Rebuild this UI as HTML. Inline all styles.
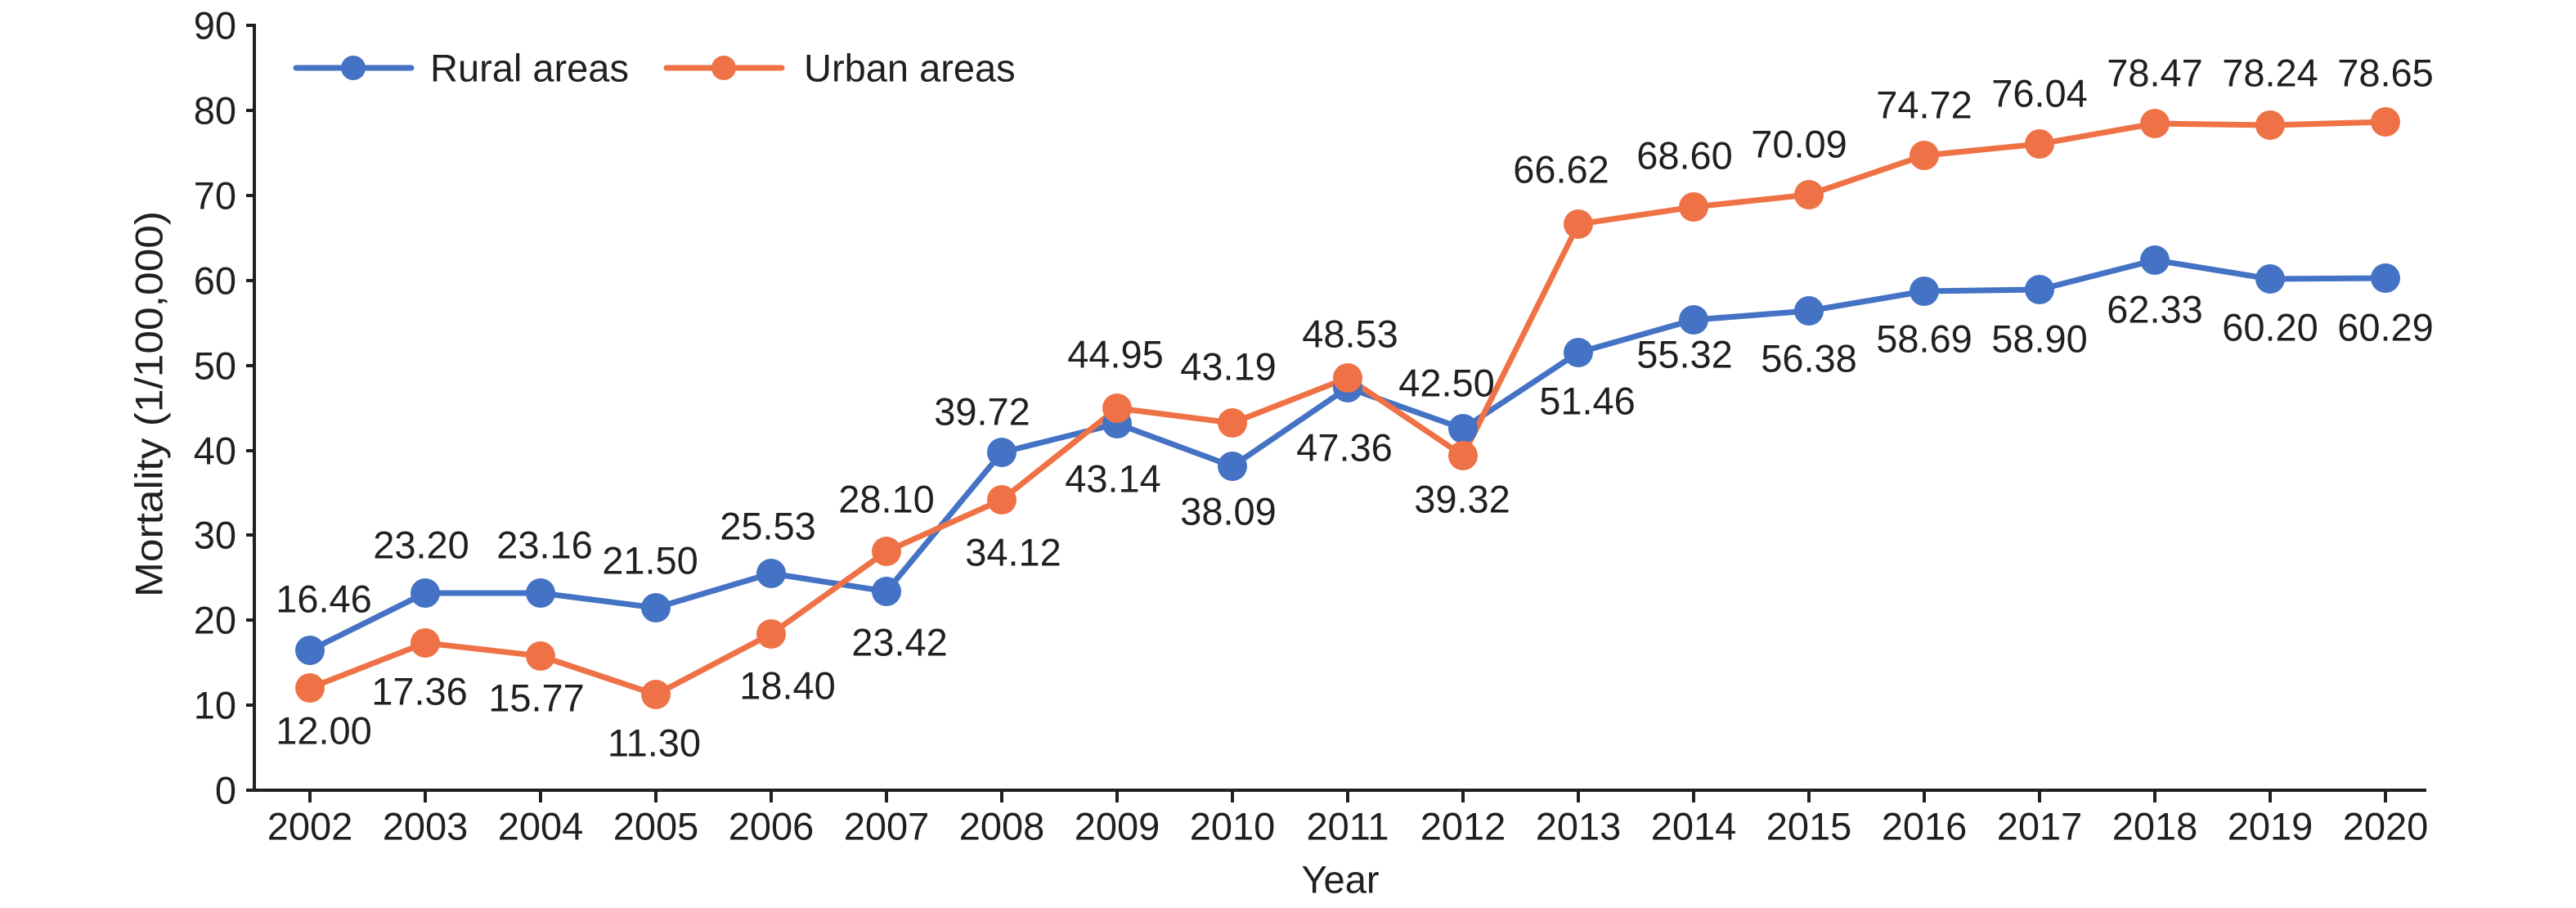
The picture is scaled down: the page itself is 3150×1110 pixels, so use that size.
<!DOCTYPE html>
<html><head><meta charset="utf-8"><style>html,body{margin:0;padding:0;background:#fff}svg{display:block}</style></head>
<body>
<svg width="3150" height="1110" viewBox="0 0 3150 1110" xmlns="http://www.w3.org/2000/svg" font-family="Liberation Sans, sans-serif" fill="#231F20">
<rect width="3150" height="1110" fill="#fff"/>
<g stroke="#231F20" stroke-width="4" fill="none">
<line x1="311" y1="29" x2="311" y2="968"/>
<line x1="309" y1="966" x2="2967" y2="966"/>
<path d="M301 31H311M301 135H311M301 239H311M301 343H311M301 447H311M301 551H311M301 654H311M301 758H311M301 862H311M301 966H311"/>
<path d="M379 966V981M520 966V981M661 966V981M802 966V981M943 966V981M1084 966V981M1225 966V981M1366 966V981M1507 966V981M1648 966V981M1789 966V981M1930 966V981M2071 966V981M2212 966V981M2353 966V981M2494 966V981M2635 966V981M2776 966V981M2917 966V981"/>
</g>
<g font-size="47" text-anchor="end" dominant-baseline="central">
<text x="289" y="31">90</text><text x="289" y="135">80</text><text x="289" y="239">70</text><text x="289" y="343">60</text><text x="289" y="447">50</text><text x="289" y="551">40</text><text x="289" y="654">30</text><text x="289" y="758">20</text><text x="289" y="862">10</text><text x="289" y="966">0</text>
</g>
<g font-size="47" text-anchor="middle" dominant-baseline="central">
<text x="379" y="1010">2002</text><text x="520" y="1010">2003</text><text x="661" y="1010">2004</text><text x="802" y="1010">2005</text><text x="943" y="1010">2006</text><text x="1084" y="1010">2007</text><text x="1225" y="1010">2008</text><text x="1366" y="1010">2009</text><text x="1507" y="1010">2010</text><text x="1648" y="1010">2011</text><text x="1789" y="1010">2012</text><text x="1930" y="1010">2013</text><text x="2071" y="1010">2014</text><text x="2212" y="1010">2015</text><text x="2353" y="1010">2016</text><text x="2494" y="1010">2017</text><text x="2635" y="1010">2018</text><text x="2776" y="1010">2019</text><text x="2917" y="1010">2020</text>
<text x="1639" y="1075">Year</text>
<text x="0" y="0" transform="translate(182,494) rotate(-90)" textLength="472" lengthAdjust="spacingAndGlyphs">Mortality (1/100,000)</text>
</g>
<line x1="362" y1="83" x2="503" y2="83" stroke="#4472C4" stroke-width="7" stroke-linecap="round"/>
<circle cx="432" cy="83" r="15" fill="#4472C4"/>
<text x="526" y="83" font-size="47" dominant-baseline="central">Rural areas</text>
<line x1="815" y1="83" x2="956" y2="83" stroke="#EF7246" stroke-width="7" stroke-linecap="round"/>
<circle cx="885" cy="83" r="15" fill="#EF7246"/>
<text x="983" y="83" font-size="47" dominant-baseline="central">Urban areas</text>
<polyline fill="none" stroke="#4472C4" stroke-width="7" stroke-linejoin="round" points="379,795 520,725 661,725 802,743 943,701 1084,723 1225,553 1366,518 1507,570 1648,474 1789,524 1930,431 2071,391 2212,380 2353,356 2494,354 2635,318 2776,341 2917,340"/>
<polyline fill="none" stroke="#EF7246" stroke-width="7" stroke-linejoin="round" points="379,841 520,786 661,802 802,849 943,775 1084,674 1225,611 1366,499 1507,517 1648,462 1789,557 1930,274 2071,253 2212,238 2353,190 2494,176 2635,151 2776,153 2917,149"/>
<g fill="#4472C4">
<circle cx="379" cy="795" r="18"/><circle cx="520" cy="725" r="18"/><circle cx="661" cy="725" r="18"/><circle cx="802" cy="743" r="18"/><circle cx="943" cy="701" r="18"/><circle cx="1084" cy="723" r="18"/><circle cx="1225" cy="553" r="18"/><circle cx="1366" cy="518" r="18"/><circle cx="1507" cy="570" r="18"/><circle cx="1648" cy="474" r="18"/><circle cx="1789" cy="524" r="18"/><circle cx="1930" cy="431" r="18"/><circle cx="2071" cy="391" r="18"/><circle cx="2212" cy="380" r="18"/><circle cx="2353" cy="356" r="18"/><circle cx="2494" cy="354" r="18"/><circle cx="2635" cy="318" r="18"/><circle cx="2776" cy="341" r="18"/><circle cx="2917" cy="340" r="18"/>
</g>
<g fill="#EF7246">
<circle cx="379" cy="841" r="18"/><circle cx="520" cy="786" r="18"/><circle cx="661" cy="802" r="18"/><circle cx="802" cy="849" r="18"/><circle cx="943" cy="775" r="18"/><circle cx="1084" cy="674" r="18"/><circle cx="1225" cy="611" r="18"/><circle cx="1366" cy="499" r="18"/><circle cx="1507" cy="517" r="18"/><circle cx="1648" cy="462" r="18"/><circle cx="1789" cy="557" r="18"/><circle cx="1930" cy="274" r="18"/><circle cx="2071" cy="253" r="18"/><circle cx="2212" cy="238" r="18"/><circle cx="2353" cy="190" r="18"/><circle cx="2494" cy="176" r="18"/><circle cx="2635" cy="151" r="18"/><circle cx="2776" cy="153" r="18"/><circle cx="2917" cy="149" r="18"/>
</g>
<g font-size="47" text-anchor="middle" dominant-baseline="central">
<text x="396" y="732">16.46</text><text x="515" y="666">23.20</text><text x="666" y="666">23.16</text><text x="795" y="685">21.50</text><text x="939" y="643">25.53</text><text x="1100" y="785">23.42</text><text x="1201" y="503">39.72</text><text x="1361" y="585">43.14</text><text x="1502" y="625">38.09</text><text x="1644" y="547">47.36</text><text x="1769" y="468">42.50</text><text x="1941" y="490">51.46</text><text x="2060" y="433">55.32</text><text x="2212" y="438">56.38</text><text x="2353" y="414">58.69</text><text x="2494" y="414">58.90</text><text x="2635" y="378">62.33</text><text x="2776" y="400">60.20</text><text x="2917" y="400">60.29</text>
<text x="396" y="893">12.00</text><text x="513" y="845">17.36</text><text x="656" y="853">15.77</text><text x="800" y="908">11.30</text><text x="963" y="838">18.40</text><text x="1084" y="610">28.10</text><text x="1239" y="675">34.12</text><text x="1364" y="433">44.95</text><text x="1502" y="448">43.19</text><text x="1651" y="408">48.53</text><text x="1788" y="610">39.32</text><text x="1909" y="207">66.62</text><text x="2060" y="190">68.60</text><text x="2200" y="176">70.09</text><text x="2353" y="128">74.72</text><text x="2494" y="114">76.04</text><text x="2635" y="89">78.47</text><text x="2776" y="89">78.24</text><text x="2917" y="89">78.65</text>
</g>
</svg>
</body></html>
